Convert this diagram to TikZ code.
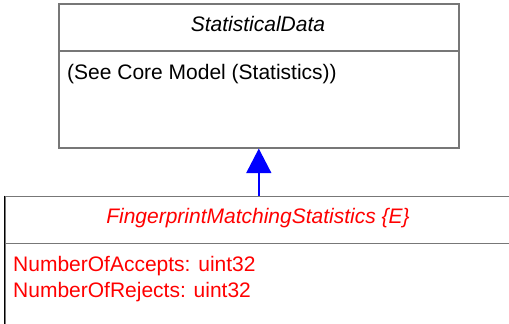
\documentclass[tikz,border=0pt]{standalone}
\usepackage{fontspec}
\setmainfont{Liberation Sans}
\usetikzlibrary{arrows.meta, positioning}
\definecolor{umlgray}{HTML}{777777}
\definecolor{umlred}{HTML}{FF0000}
\definecolor{umlblue}{HTML}{0000FF}

\begin{document}
\begin{tikzpicture}[x=1pt, y=-1pt,
    classbox/.style={rectangle, draw=umlgray, line width=1.6pt, anchor=north west, inner sep=0pt},
    divider/.style={draw=umlgray, line width=1.6pt},
    title/.style={font=\fontsize{21}{26}\selectfont\itshape, anchor=base, inner sep=0pt},
    attr/.style={font=\fontsize{21}{26}\selectfont, anchor=base west, inner sep=0pt},
    inherit/.style={-{Triangle[width=25pt, length=24.5pt]}, draw=umlblue, fill=umlblue, line width=1.5pt}
]

\useasboundingbox (0,0) rectangle (509,324);
\clip (0,0) rectangle (509,324);

% base class
\node[classbox, minimum width=400pt, minimum height=144pt] (sd) at (58,3) {};
\node[title] (sd_title) at (258,31) {StatisticalData};
\coordinate (sd_div) at (58,51);
\draw[divider] (sd_div) -- (sd_div -| sd.east);
\node[attr] (sd_attr) at (67,79) {(See Core Model (Statistics))};

% derived class (runs off the page)
\node[classbox, minimum width=520pt, minimum height=140pt] (fms) at (4.5,195.5) {};
\draw[line width=1pt] (fms.north west) -- (fms.south west);
\node[title, text=umlred] (fms_title) at (258,223) {FingerprintMatchingStatistics \{E\}};
\coordinate (fms_div) at (4.5,243.5);
\draw[divider] (fms_div) -- (fms_div -| fms.east);
\node[attr, text=umlred] (fms_acc) at (13,271) {NumberOfAccepts: uint32};
\node[attr, text=umlred] (fms_rej) at ([yshift=-26pt]fms_acc.base west) {NumberOfRejects: uint32};

\draw[inherit] (fms.north -| sd.south) -- (sd.south);

\end{tikzpicture}
\end{document}
